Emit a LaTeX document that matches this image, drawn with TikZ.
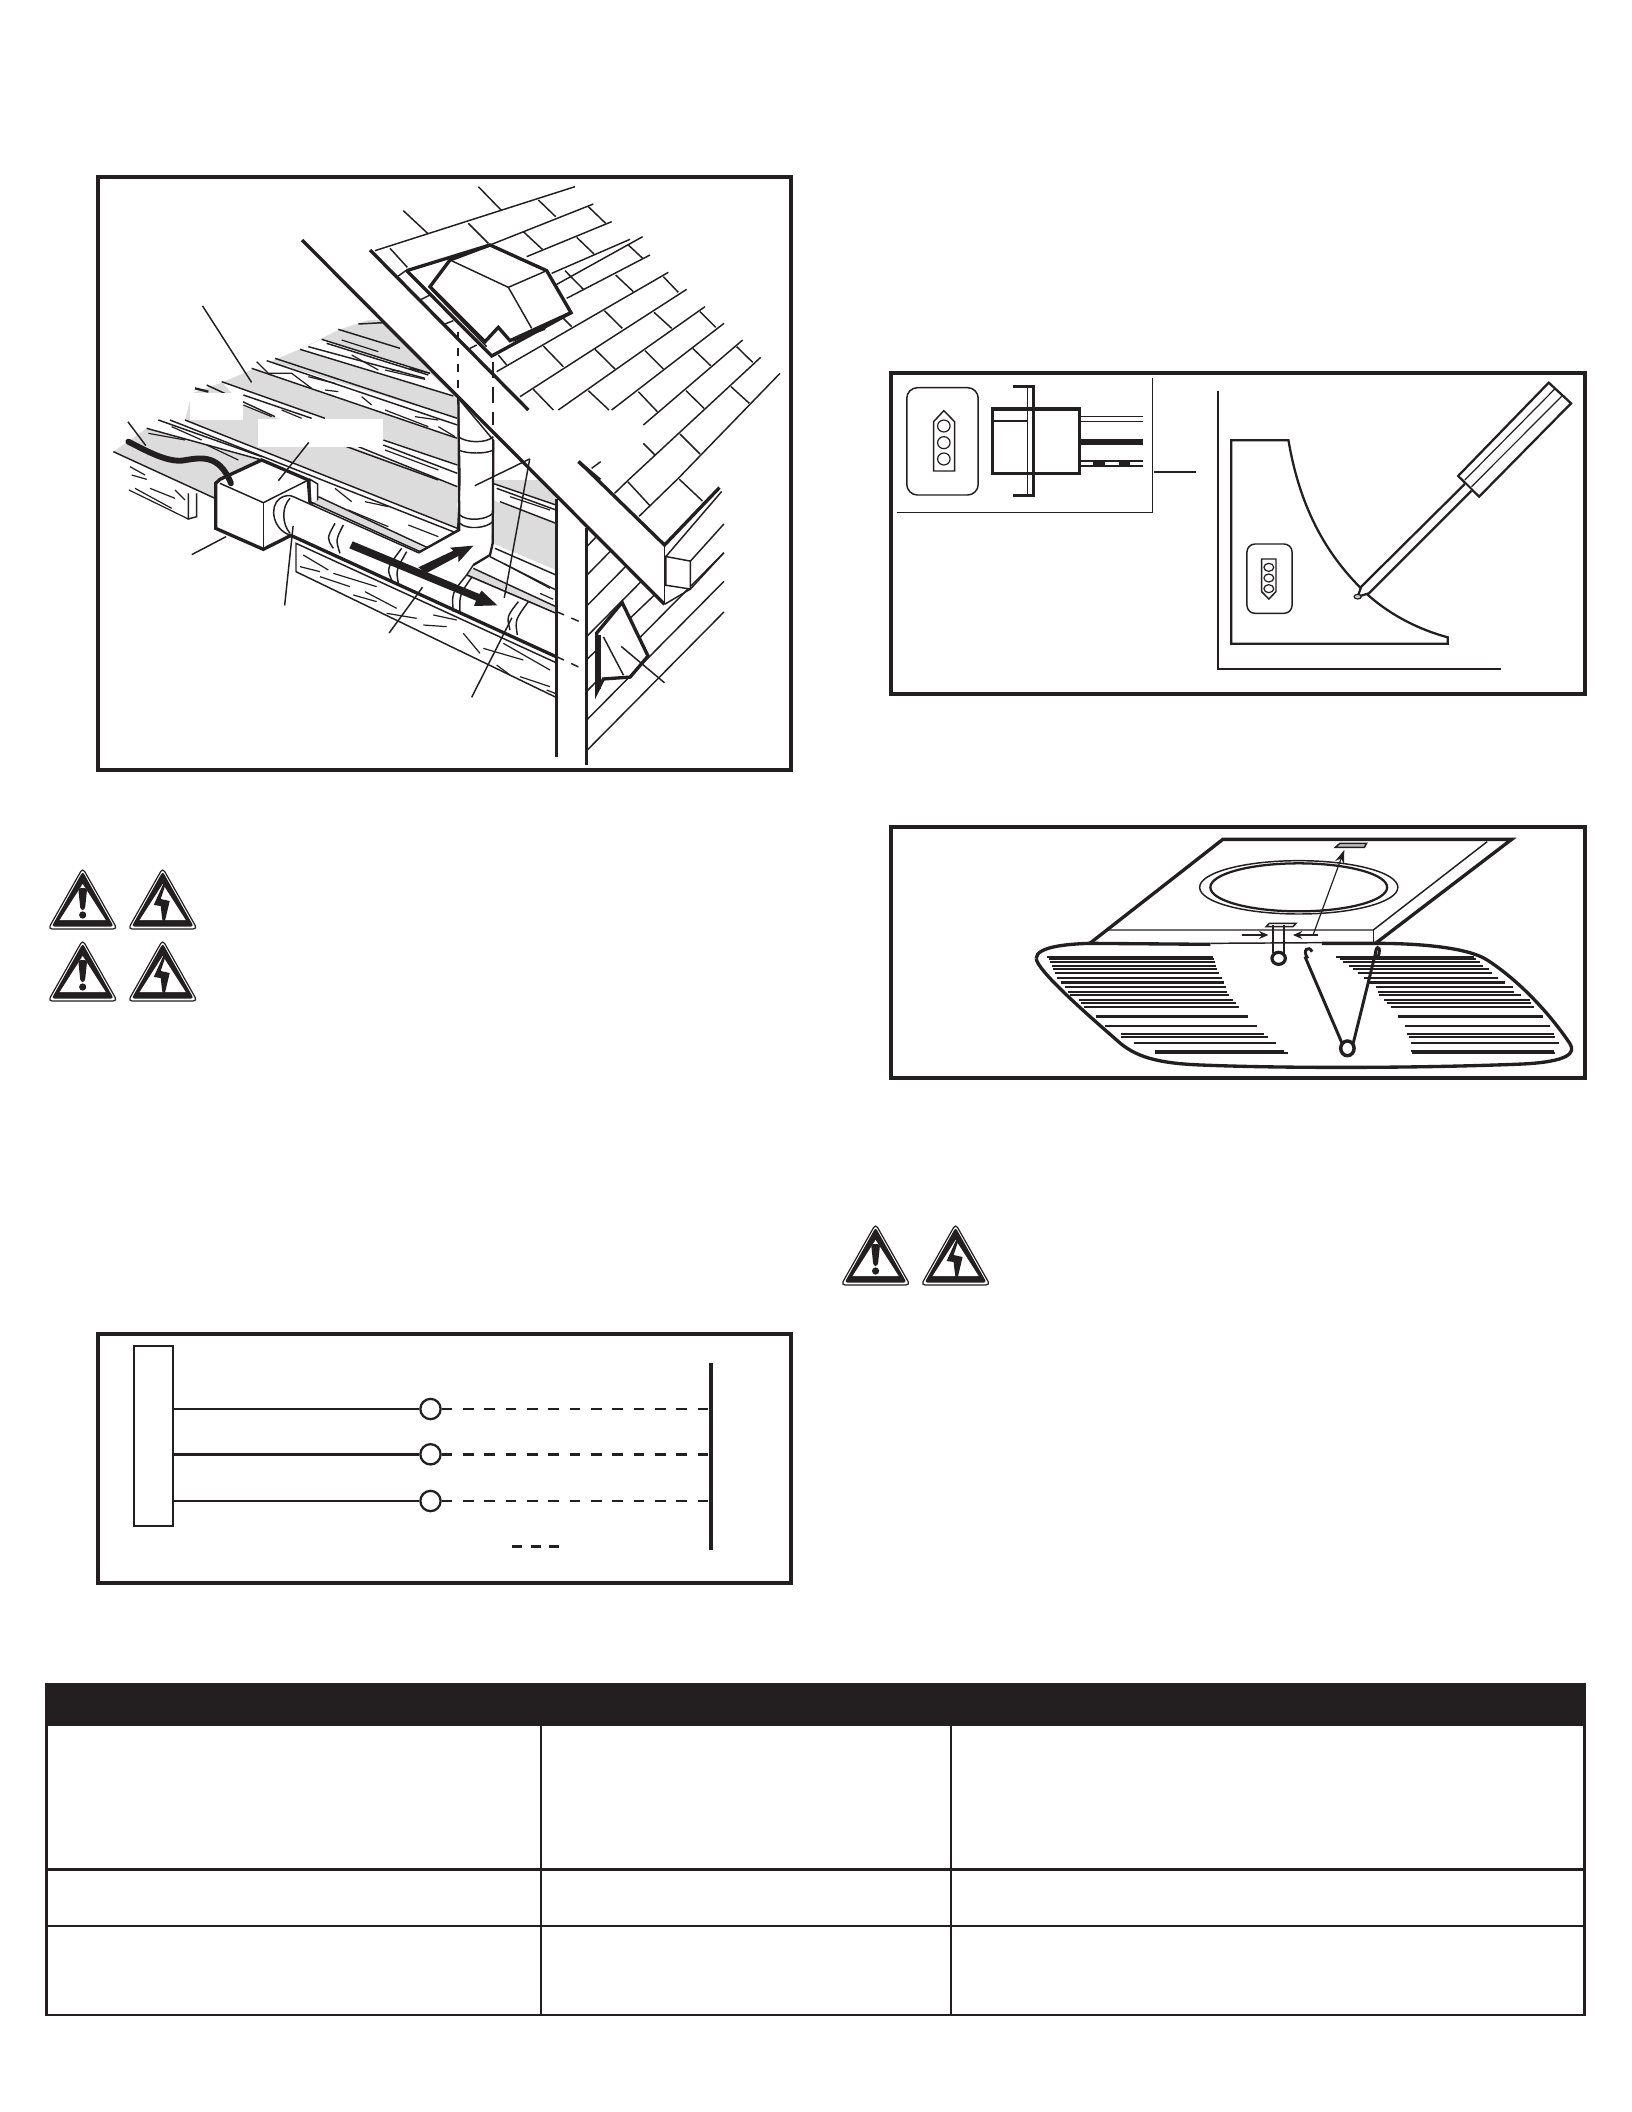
\documentclass[tikz,border=0pt]{standalone}
\usetikzlibrary{arrows.meta}

\definecolor{inkblack}{HTML}{231F20}
\definecolor{ceilgray}{HTML}{DCDCDC}

\tikzset{
	framebox/.style={draw=inkblack, line width=1.5pt},
	heavy/.style={draw=inkblack, line width=1.25pt, line join=miter},
	medium/.style={draw=inkblack, line width=.85pt},
	fine/.style={draw=inkblack, line width=.55pt},
	grain/.style={draw=inkblack, line width=.45pt},
	xthree/.style={shift={#1}, x=.125pt, y=-.125pt},
	xwide/.style={shift={#1}, x=.16741pt, y=-.125pt},
	xroof/.style={shift={(90,170)}, x=.16741pt, y=-.14351pt},
	warnbase/.pic={
		\draw[fill=white, draw=inkblack, line width=.45pt, rounded corners=1.5pt] (0,0) -- (-34.5,61) -- (34.5,61) -- cycle;
		\fill[inkblack, rounded corners=1pt] (0,3.5) -- (-31,58.5) -- (31,58.5) -- cycle;
		\fill[white] (0,16) -- (-23,52) -- (23,52) -- cycle;
	},
	warnbang/.pic={
		\pic {warnbase};
		\fill[inkblack, rounded corners=1pt] (-4.5,20) -- (4.5,20) -- (2.2,42) -- (-2.2,42) -- cycle;
		\fill[inkblack] (0,47) circle (3.6);
	},
	warnbolt/.pic={
		\pic {warnbase};
		\fill[inkblack] (1,15) -- (-9,37) -- (-2,38) -- (-1,47) -- (0,54) -- (2,54) -- (7,33) -- (-2,31) -- (3,16) -- cycle;
	},
}

\begin{document}
\begin{tikzpicture}[x=.375pt, y=-.375pt]
	\useasboundingbox[fill=white] (0,0) rectangle (1632,2112);

	% house section: ceiling first
	\begin{scope}[xthree={(105,320)}]
		\fill[ceilgray] (345,190) -- (590,85) -- (700,30) -- (790,0) -- (830,0) -- (1057,235) -- (1057,630)
			-- (240,300) -- (260,220) -- cycle;
		\fill[ceilgray] (25,395) -- (125,325) -- (470,420) -- (335,490) -- (335,535) -- cycle;
		\fill[white] (650,58) -- (975,160) -- (1045,228) -- (585,88) -- cycle;
		\fill[white] (440,145) -- (485,122) -- (1057,295) -- (1057,355) -- cycle;
		\fill[white] (350,185) -- (1057,435) -- (1057,500) -- (415,255) -- cycle;
		\fill[white] (125,325) -- (160,300) -- (240,300) -- (1057,625) -- (1057,640) -- (970,690) -- (620,545) -- (620,480) -- (470,420) -- cycle;
		\fill[ceilgray] (625,545) -- (950,695) -- (972,685) -- (640,530) -- cycle;
		\foreach \xa/\ya/\xb/\yb in {700/28/885/85, 650/58/975/160, 665/70/970/165, 585/88/1045/228, 610/80/960/175,
			760/12/835/8, 510/115/1057/295, 485/122/1057/315, 440/145/1057/355, 350/185/660/295,
			305/195/510/290, 415/225/620/295, 835/360/1057/435, 835/375/1057/460, 725/380/1000/480, 760/380/1057/500,
			240/300/1057/625, 195/300/1057/640, 160/300/470/410, 125/325/470/420, 25/395/330/535,
			640/530/972/685, 625/545/950/695}
			\draw[fine] (\xa,\ya) -- (\xb,\yb);
		\foreach \xa/\ya/\xb/\yb in {610/170/690/190, 660/210/700/215, 770/230/800/255, 840/270/970/320, 930/290/1000/300,
			1000/320/1050/350, 710/60/820/95, 740/105/820/150, 840/150/960/178, 860/150/890/155, 915/145/975/160,
			415/255/500/290, 530/270/590/295, 840/390/1000/450, 130/340/240/360, 305/375/400/420, 200/320/290/360,
			690/505/740/545, 780/545/850/560, 730/570/850/620, 910/615/1000/650, 75/440/120/465, 80/465/125/478,
			135/505/210/535, 210/510/240/540, 72/510/250/597, 90/505/200/565}
			\draw[grain] (\xa,\ya) -- (\xb,\yb);
		\draw[grain] (455,125) -- (490,160) -- (560,160) -- (620,205);
		\draw[medium] (270,205) -- (310,215);
		\draw[fine] (250,520) -- (250,597) -- (275,590) -- (275,520);
		% blanked areas
		\fill[white] (255,218) rectangle (413,300);
		\fill[white] (458,297) rectangle (833,380);
		% junction box with flange
		\draw[fine, fill=white] (615,478) -- (638,492) -- (638,545) -- (615,555) -- cycle;
		\draw[heavy, fill=white] (332,490) -- (345,478) -- (470,420) -- (610,480) -- (615,550) -- (560,645) -- (475,688) -- (332,625) -- cycle;
		\draw[fine] (345,490) -- (475,548) -- (610,480);
		\draw[fine] (475,548) -- (475,688);
		\draw[fine] (475,688) -- (562,645);
		\draw[line width=2.2pt, inkblack, line cap=round] (70,365) .. controls (120,390) and (180,425) .. (230,422)
			.. controls (280,415) and (340,395) .. (378,490);
	\end{scope}

	% right hand ceiling part and wall plate
	\begin{scope}[xthree={(270,480)}]
		\fill[ceilgray] (668,0) -- (805,0) -- (858,55) -- (858,270) -- (668,190) -- cycle;
		\fill[white] (668,10) -- (858,75) -- (858,130) -- (668,60) -- cycle;
		\fill[white] (670,205) -- (858,285) -- (858,385) -- (610,265) -- cycle;
		\fill[ceilgray] (610,265) -- (858,380) -- (858,395) -- (590,285) -- cycle;
		\foreach \xa/\ya/\xb/\yb in {668/10/858/75, 680/25/858/90, 690/65/858/130, 675/205/858/285, 660/230/858/330,
			610/265/858/380, 590/285/858/400}
			\draw[fine] (\xa,\ya) -- (\xb,\yb);
		\foreach \xa/\ya/\xb/\yb in {720/50/840/90, 700/250/840/325, 810/340/850/358}
			\draw[grain] (\xa,\ya) -- (\xb,\yb);
		% joist under the duct
		\draw[fine, fill=white] (78,190) -- (858,548) -- (858,652) -- (78,275) -- cycle;
		\foreach \xa/\ya/\xb/\yb in {90/260/150/275, 100/225/175/270, 150/290/240/320, 190/280/320/320, 250/345/320/365,
			285/335/380/385, 350/400/440/415, 460/435/530/440, 490/405/560/420, 580/460/630/520, 640/505/760/540,
			680/555/720/585, 750/590/840/620, 700/490/840/570, 830/630/855/640}
			\draw[grain] (\xa,\ya) -- (\xb,\yb);
		% duct
		\draw[fine, fill=white] (70,50) -- (445,218) -- (563,150) -- (570,0) -- (565,-245) -- (670,-120) -- (668,190)
			-- (660,225) -- (610,255) -- (590,285) -- (858,400) -- (858,530) -- (60,165)
			.. controls (10,150) and (-5,80) .. (30,55) .. controls (45,45) and (60,45) .. (70,50);
		\draw[fine] (60,55) .. controls (35,80) and (35,130) .. (60,160);
		\fill[ceilgray] (130,70) -- (450,215) -- (470,205) -- (145,60) -- cycle;
		\draw[fine] (120,65) -- (450,215);
		\draw[medium] (565,-245) -- (568,150) -- (445,218);
		\draw[medium] (670,-120) -- (668,190) -- (660,225) -- (610,255);
		\draw[fine] (570,105) .. controls (590,125) and (650,120) .. (668,100);
		\draw[fine] (570,130) .. controls (590,150) and (650,145) .. (668,125);
		\draw[fine] (565,-130) .. controls (590,-110) and (650,-110) .. (670,-130);
		\draw[fine] (565,-90) .. controls (590,-78) and (650,-78) .. (670,-90);
		\foreach \xa/\ya/\xb/\yb/\xc/\yc in {195/130/170/175/190/205, 220/135/197/180/210/220,
			395/205/350/265/365/300, 410/215/378/270/385/310, 590/285/545/340/550/395, 605/292/568/345/570/400,
			745/365/710/410/720/450, 775/365/735/420/742/465}
			\draw[fine] (\xa,\ya) .. controls (\xb,\yb) .. (\xc,\yc);
		\draw[line width=1.25pt, inkblack] (60,165) -- (858,530);
		% air flow
		\fill[inkblack] (248,184) -- (628,342) -- (635,332) -- (682,376) -- (612,378) -- (618,362) -- (238,205) -- cycle;
		\fill[inkblack] (445,262) -- (550,212) -- (540,203) -- (610,197) -- (565,247) -- (565,228) -- (468,280) -- cycle;
		\draw[fine, dashed] (860,395) -- (945,432);
		\draw[fine, dashed] (860,530) -- (945,570);
	\end{scope}

	% roof with vent
	\begin{scope}[xthree={(370,180)}]
		\foreach \xa/\ya/\xb/\yb in {15/212/615/20, 360/195/670/72, 470/230/725/125, 545/280/780/178, 490/352/818/170,
			590/355/840/225, 380/575/895/277, 450/650/950/328, 565/690/1005/380, 725/690/1062/430, 820/735/1118/480,
			775/900/1172/532, 920/900/1230/580,
			100/92/175/162, 325/20/395/92, 505/60/557/110, 295/130/355/190, 460/155/517/208, 655/80/707/130,
			620/172/672/222, 60/205/112/262, 585/272/640/328, 775/195/818/235, 737/285/790/335, 880/290/925/337,
			703/392/757/445, 852/397/905/445, 990/395/1037/442, 520/498/580/560, 675/508/735/567, 825/512/880/567,
			968/505/1022/557, 1100/500/1148/547, 490/628/550/690, 655/632/717/690, 805/635/862/695, 948/632/1002/685,
			1083/620/1138/670, 930/762/990/822, 820/790/855/825, 580/415/605/440, 385/525/410/555,
			85/288/110/270, 150/360/180/345, 225/432/250/422, 300/505/320/495, 665/865/692/845}
			\draw[fine] (\xa,\ya) -- (\xb,\yb);
		\draw[fine] (185,330) -- (350,500);
		\draw[heavy, fill=white] (240,240) -- (360,195) -- (530,272) -- (603,398) -- (420,482) -- (385,442) -- (345,485) -- (180,320) -- cycle;
		\draw[heavy] (110,272) -- (360,195);
		\draw[heavy] (110,272) -- (365,528) -- (603,398);
		\draw[fine] (240,240) -- (415,322) -- (530,272);
		\draw[fine] (415,322) -- (485,445);
		\fill[inkblack] (420,478) -- (530,435) -- (525,450) -- (430,485) -- cycle;
		\draw[fine, dashed] (264,455) -- (264,650);
		\draw[medium, dash pattern=on 6pt off 3.5pt] (370,545) -- (370,735);
		\draw[heavy] (0,210) -- (475,690);
		\draw[heavy] (625,845) -- (690,900);
	\end{scope}

	% rafter, eave, wall and siding
	\begin{scope}[xroof]
		\foreach \xa/\ya/\xb/\yb in {1175/845/1206/810, 1230/905/1314/810, 1205/815/1255/878, 1320/808/1372/865,
			1112/985/1133/960, 1112/1060/1165/997, 1112/1140/1200/1036, 1112/1220/1234/1076, 1112/1280/1264/1111,
			1112/1363/1420/1000, 1112/1438/1420/1075, 1112/1518/1420/1155}
			\draw[fine] (\xa,\ya) -- (\xb,\yb);
		\draw[fine, fill=white] (1290,1010) -- (1345,1022) -- (1345,1095) -- (1290,1085) -- cycle;
		\draw[fine] (1345,1022) -- (1420,925);
		\draw[fine] (1345,1095) -- (1420,1000);
		\draw[fine] (1290,1010) -- (1415,840);
		\draw[heavy] (1095,762) -- (1287,980) -- (1410,830);
		\draw[fine] (1287,980) -- (1287,1135);
		\draw[heavy] (475,183) -- (1287,1135);
		\draw[fine] (1287,1135) -- (1345,1095);
		\draw[heavy] (1045,860) -- (1045,1535);
		\draw[heavy] (1112,935) -- (1112,1555);
		% side outlet
		\draw[heavy, fill=white] (1135,1210) -- (1192,1130) -- (1250,1270) -- (1210,1325) -- (1150,1330) -- (1135,1365) -- cycle;
		\draw[line width=1.5pt, inkblack] (1140,1215) -- (1140,1355);
		\draw[fine] (1150,1220) -- (1195,1320);
		% leaders
		\foreach \xa/\ya/\xb/\yb in {252/355/362/555, 85/658/125/720, 490/712/422/812, 228/1005/305/958, 455/930/436/1138,
			745/1090/670/1210, 985/755/928/1118, 985/755/862/825, 945/1170/855/1378, 1190/1245/1287/1340}
			\draw[fine] (\xa,\ya) -- (\xb,\yb);
	\end{scope}

	\draw[framebox] (98,177) rectangle (791,770);

	% warning signs
	\pic at (82.7,868) {warnbang};
	\pic at (162.7,868) {warnbolt};
	\pic at (82.7,940) {warnbang};
	\pic at (162.7,940) {warnbolt};
	\pic at (875.6,1224) {warnbang};
	\pic at (955.6,1224) {warnbolt};

	% adjusting the switch
	\draw[framebox] (891,372.5) rectangle (1585,693.5);
	\begin{scope}[xwide={(880,360)}]
		\draw[fine] (610,55) -- (610,457) -- (37,457);
		\draw[fine, rounded corners=4pt] (60,83) rectangle (220,405);
		\draw[fine, fill=white] (120,185) -- (143,152) -- (167,185) -- (167,333) -- (120,333) -- cycle;
		\foreach \yy in {198,248,297}
			\draw[grain] (143,\yy) circle [x radius=14, y radius=18];
		\draw[line width=1.2pt, inkblack] (252,147) rectangle (447,340);
		\draw[fine] (255,183) -- (330,183);
		\draw[fine] (330,85) -- (330,405);
		\draw[line width=1.2pt, inkblack] (297,80) -- (343,80) -- (343,407) -- (297,407);
		\draw[fine] (447,170) -- (590,170);
		\draw[fine] (447,185) -- (590,185);
		\fill[inkblack] (447,236) rectangle (590,256);
		\draw[fine] (447,303) -- (590,303);
		\draw[fine] (447,318) -- (590,318);
		\foreach \xx in {478,535}
			\fill[inkblack] (\xx,303) rectangle ++(26,15);
		\draw[medium] (613,335) -- (708,335);
		\draw[medium] (757,92) -- (757,927) -- (1390,927);
		\draw[medium] (787,241) -- (915,241) .. controls (945,480) and (1020,610) .. (1085,695)
			.. controls (1140,765) and (1210,810) .. (1272,832) -- (1272,851) -- (787,851) -- cycle;
		\draw[fine, rounded corners=3pt] (822,552) rectangle (923,760);
		\draw[fine, fill=white] (855,597) -- (887,597) -- (887,695) -- (871,717) -- (855,695) -- cycle;
		\foreach \yy in {622,654,686}
			\draw[grain] (871,\yy) circle [x radius=11, y radius=12];
		\draw[medium, fill=white] (1498,68) -- (1548,130) -- (1342,410) -- (1295,348) -- cycle;
		\draw[grain] (1513,85) -- (1310,360);
		\draw[grain] (1530,105) -- (1325,380);
		\draw[medium, fill=white] (1310,372) -- (1078,680) -- (1070,710) -- (1095,700) -- (1325,392);
		\draw[grain, fill=gray!40] (1070,710) circle [x radius=8, y radius=7];
	\end{scope}

	% grille with clip and spring
	\draw[framebox] (891,827) rectangle (1585,1078);
	\begin{scope}[xwide={(880,810)}]
		\draw[heavy] (470,400) -- (768,88) -- (1415,88) -- (1110,400);
		\draw[fine] (510,360) -- (1105,360) -- (1360,95);
		\draw[fine] (1105,360) -- (1105,397);
		\draw[fine] (938,232) ellipse [x radius=222, y radius=80];
		\draw[medium] (938,232) ellipse [x radius=198, y radius=72];
		\draw[fine, fill=gray!50] (1020,112) -- (1030,100) -- (1090,100) -- (1085,112) -- cycle;
		\draw[grain, -{Stealth[length=5pt, width=3.5pt]}] (970,375) -- (1040,120);
		\draw[grain, -{Stealth[length=3.5pt, width=3pt]}] (810,375) -- (870,375);
		\draw[grain, -{Stealth[length=3.5pt, width=3pt]}] (982,375) -- (925,375);
		\draw[fine] (865,350) -- (872,340) -- (932,340) -- (925,350) -- cycle;
		\draw[heavy] (350,445) .. controls (350,410) and (420,402) .. (470,400) -- (740,403);
		\draw[fine] (740,400) -- (990,398);
		\draw[heavy] (990,400) -- (1110,400) .. controls (1220,400) and (1320,415) .. (1360,450)
			.. controls (1430,510) and (1500,610) .. (1545,700) .. controls (1560,730) and (1540,755) .. (1440,762)
			.. controls (1200,775) and (900,775) .. (720,765) .. controls (620,760) and (570,740) .. (530,690)
			.. controls (470,620) and (350,480) .. (350,445);
		\foreach \yy/\xa/\xb/\xc/\xd/\lw in {440/375/745/1022/1330/.85, 448/378/748/1030/1335/.65, 457/380/750/1038/1345/.65,
			467/385/752/1050/1350/.85, 478/388/755/1060/1365/.65, 490/392/760/1070/1370/.85, 503/397/765/1085/1385/.65,
			518/405/770/1095/1400/1.3, 532/415/775/1110/1418/.85, 545/420/778/1115/1420/.65, 556/425/782/1118/1435/.85,
			570/445/790/1130/1455/.85, 580/450/798/1135/1458/.65, 592/458/805/1145/1465/.65, 620/483/825/1160/1485/.95,
			648/505/845/1175/1500/.95, 672/540/860/1180/1510/.95, 680/540/868/1185/1512/.65, 700/568/888/1190/1520/.75,
			723/617/905/1190/1510/.95, 730/617/915/1192/1512/.65}
			\draw[inkblack, line width=\lw pt] (\xa,\yy) -- (\xb,\yy) (\xc,\yy) -- (\xd,\yy);
		\draw[medium] (880,345) -- (880,430);
		\draw[medium] (905,345) -- (905,430);
		\draw[line width=1.2pt, inkblack, fill=white] (893,445) ellipse [x radius=15, y radius=18];
		\draw[line width=1.1pt, inkblack] (958,445) .. controls (945,420) and (960,405) .. (968,425) (952,440) -- (1035,700);
		\draw[line width=1.1pt, inkblack] (1110,440) .. controls (1108,405) and (1122,405) .. (1118,430) .. controls (1116,445) and (1110,450) .. (1108,440) -- (1060,700);
		\draw[line width=1.3pt, inkblack, fill=white] (1047,715) ellipse [x radius=15, y radius=22];
	\end{scope}

	% wiring diagram
	\draw[framebox] (98,1334) rectangle (791,1583);
	\node[draw=inkblack, line width=.85pt, minimum width=14.5pt, minimum height=67.5pt, inner sep=0pt] (termblock) at (153.5,1436) {};
	\coordinate (bartop) at (711,1362.7);
	\coordinate (barend) at (711,1550);
	\draw[line width=1.5pt, inkblack] (bartop) -- (barend);
	\foreach \name/\yy in {black/1409, white/1454.3, ground/1501}{
		\node[circle, draw=inkblack, line width=.85pt, fill=white, minimum size=7.6pt, inner sep=0pt] (wire\name) at (430.5,\yy) {};
		\draw[line width=.95pt, inkblack] (termblock.east |- wire\name) -- (wire\name);
		\draw[line width=.95pt, inkblack, dash pattern=on 4pt off 4pt] (wire\name.east) -- (wire\name -| bartop);
	}
	\coordinate (legenda) at (512,1546.7);
	\coordinate (legendb) at (559,1546.7);
	\draw[line width=.95pt, inkblack, dash pattern=on 3.7pt off 3.3pt] (legenda) -- (legendb);

	% table
	\fill[inkblack] (46.5,1684) rectangle (1584.5,1726);
	\draw[medium] (46.5,1684) rectangle (1584.5,2015);
	\foreach \yy in {1869.5,1926}
		\draw[medium] (46.5,\yy) -- (1584.5,\yy);
	\foreach \xx in {541,951}
		\draw[fine] (\xx,1726) -- (\xx,2015);
\end{tikzpicture}
\end{document}
